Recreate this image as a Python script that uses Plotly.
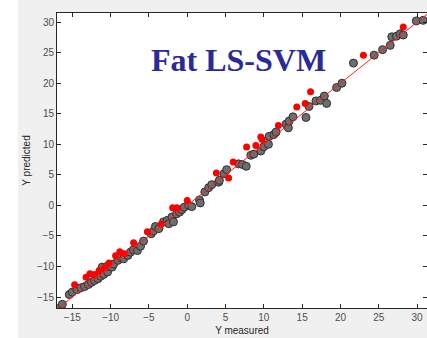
import plotly.graph_objects as go

# Calibration set (gray) and validation set (red): measured vs predicted
cal_measured = [
    -16.9, -16.3, -15.4, -15.0, -14.4, -13.9, -13.4, -12.9, -12.5, -12.1,
    -11.65, -11.3, -10.9, -10.4, -11.1, -10.5, -9.8, -9.6, -9.05, -8.6,
    -8.3, -7.75, -7.4, -7.05, -6.5, -6.1, -5.7, -4.7, -4.4, -4.15,
    -3.7, -3.1, -2.6, -2.4, -2.0, -1.8, -1.4, -1.0, -0.7, -0.4,
    0.2, 0.6, 1.6, 1.7, 2.3, 2.8, 3.2, 4.1, 4.2, 4.8,
    5.15, 6.7, 7.2, 7.7, 8.3, 8.7, 9.6, 10.0, 10.6, 10.7,
    11.3, 11.6, 12.9, 13.2, 13.3, 13.8, 15.5, 15.9, 16.8, 17.4,
    17.9, 18.2, 19.5, 20.2, 21.7, 24.4, 25.5, 26.5, 26.7, 27.3,
    27.8, 28.2, 29.9, 30.8,
]
cal_predicted = [
    -16.9, -16.2, -14.6, -14.2, -13.8, -13.5, -13.3, -12.95, -12.6, -12.3,
    -12.0, -11.6, -11.3, -10.9, -10.1, -10.0, -10.1, -9.6, -9.0, -8.6,
    -8.75, -8.2, -7.65, -7.3, -7.4, -6.7, -5.85, -4.65, -4.2, -3.45,
    -3.8, -2.7, -2.45, -3.0, -1.9, -2.7, -1.4, -1.1, -0.7, -0.3,
    0.0, -0.2, 0.9, 0.4, 2.2, 2.9, 3.4, 3.8, 4.1, 5.2,
    5.85, 6.8, 6.7, 6.4, 8.2, 8.4, 8.9, 9.6, 10.0, 11.3,
    11.6, 12.0, 13.3, 12.7, 13.8, 14.5, 14.4, 16.2, 17.1, 17.2,
    17.9, 16.7, 19.3, 20.0, 23.3, 24.6, 25.5, 26.2, 27.6, 27.7,
    28.1, 27.9, 30.2, 30.3,
]
val_measured = [
    -14.7, -13.2, -12.7, -12.1, -11.5, -10.8, -10.2, -9.35, -8.8, -8.2,
    -7.0, -5.2, -3.4, -1.9, -1.35, 0.0, 3.8, 5.4, 6.0, 7.75,
    8.96, 9.6, 9.8, 11.9, 14.3, 15.4, 16.1, 23.0, 28.2,
]
val_predicted = [
    -13.0, -11.75, -11.2, -11.3, -10.65, -10.2, -9.45, -8.25, -7.6, -7.9,
    -6.1, -4.3, -3.1, -0.4, -0.4, 0.8, 5.3, 4.5, 7.1, 9.55,
    9.8, 11.2, 10.8, 13.1, 16.1, 16.7, 18.6, 24.6, 29.2,
]
ideal_line = [-17, 31.5]

x_ticks = [-15, -10, -5, 0, 5, 10, 15, 20, 25, 30]
y_ticks = [-15, -10, -5, 0, 5, 10, 15, 20, 25, 30]

fig = go.Figure()
fig.add_trace(go.Scatter(
    x=cal_measured, y=cal_predicted, mode="markers",
    marker=dict(size=8, color="#6e6e6e", line=dict(color="#303030", width=1)),
    showlegend=False,
))
fig.add_trace(go.Scatter(
    x=val_measured, y=val_predicted, mode="markers",
    marker=dict(size=7, color="#ff0000", line=dict(width=0)),
    showlegend=False,
))
fig.add_trace(go.Scatter(
    x=ideal_line, y=ideal_line, mode="lines",
    line=dict(color="#ff2020", width=1), showlegend=False,
))

axis_common = dict(
    showgrid=False, zeroline=False, showline=True, linecolor="#262626",
    linewidth=1, mirror="ticks", ticks="inside", ticklen=4, tickcolor="#262626",
    tickfont=dict(family="Liberation Sans, Arial", size=10, color="#4d4d4d"),
)
fig.update_xaxes(
    range=[-17, 31.3], tickvals=x_ticks,
    title=dict(text="Y measured", standoff=4,
               font=dict(family="Liberation Sans, Arial", size=10, color="#262626")),
    **axis_common,
)
fig.update_yaxes(
    range=[-16.8, 31.5], tickvals=y_ticks,
    title=dict(text="Y predicted", standoff=4,
               font=dict(family="Liberation Sans, Arial", size=10, color="#262626")),
    **axis_common,
)

fig.add_annotation(
    text="<b>Fat LS-SVM</b>", xref="paper", yref="paper", x=0.49, y=0.84,
    xanchor="center", yanchor="middle", showarrow=False,
    font=dict(family="Liberation Serif, Times New Roman", size=32, color="#2a2a98"),
)

# white strip at the left edge of the figure
fig.add_shape(type="rect", xref="paper", yref="paper", layer="below",
              x0=-57 / 370, x1=-39 / 370, y0=-1, y1=2,
              fillcolor="white", line=dict(width=0))

fig.update_layout(
    width=427, height=338,
    margin=dict(l=57, r=0, t=13, b=30),
    paper_bgcolor="#f0f0f0", plot_bgcolor="white",
)

fig.write_html("out.html")
